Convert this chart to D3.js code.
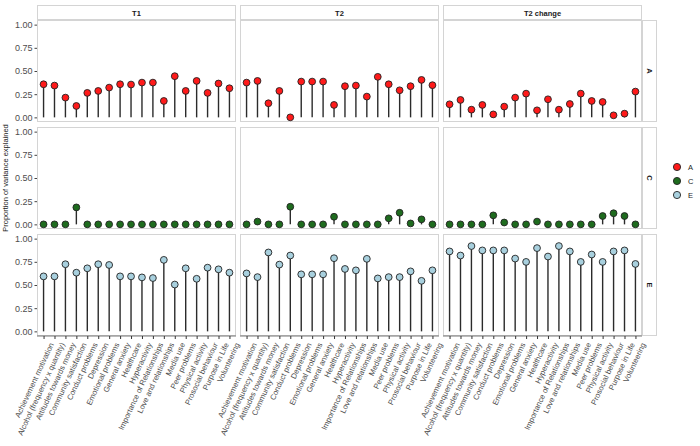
<!DOCTYPE html>
<html><head><meta charset="utf-8">
<script src="https://cdn.jsdelivr.net/npm/d3@7"></script>
<style>body{margin:0;background:#fff}svg{display:block;font-family:"Liberation Sans",Arial,sans-serif}</style>
</head><body><svg id="c" width="700" height="446"></svg>
<script>
const categories = ["Achievement motivation","Alcohol (frequency x quantity)","Attitudes towards money","Community satisfaction","Conduct problems","Depression","Emotional problems","General anxiety","Healthcare","Hyperactivity","Importance of Relationships","Love and relationships","Media use","Peer problems","Physical activity","Prosocial behaviour","Purpose in Life","Volunteering"];
const timepoints = ["T1","T2","T2 change"];
const components = ["A","C","E"];
const colors = {A:"#ff1a1a", C:"#1e6b1e", E:"#a8d0de"};
const yTicks = [0,0.25,0.5,0.75,1];

const A_T1 = [0.357,0.343,0.213,0.123,0.264,0.285,0.321,0.357,0.354,0.375,0.375,0.177,0.444,0.285,0.393,0.264,0.365,0.314];
const A_T2 = [0.375,0.393,0.152,0.285,0.0,0.386,0.386,0.386,0.134,0.336,0.343,0.224,0.437,0.357,0.292,0.336,0.404,0.347];
const A_T2c = [0.141,0.188,0.083,0.134,0.032,0.116,0.213,0.256,0.076,0.195,0.083,0.144,0.256,0.177,0.166,0.022,0.040,0.278];
const C_T1 = [0,0,0,0.183,0,0,0,0,0,0,0,0,0,0,0,0,0,0];
const C_T2 = [0,0.03,0,0,0.19,0,0,0,0.082,0,0,0,0,0.065,0.125,0.01,0.054,0];
const C_T2c = [0,0,0,0,0.097,0.02,0,0,0.03,0,0,0,0,0,0.09,0.12,0.09,0];
const E_T1 = [0.593,0.593,0.724,0.633,0.68,0.724,0.716,0.593,0.593,0.582,0.575,0.771,0.505,0.68,0.567,0.687,0.669,0.633];
const E_T2 = [0.625,0.585,0.851,0.72,0.818,0.615,0.615,0.615,0.789,0.673,0.658,0.782,0.571,0.585,0.585,0.647,0.545,0.658];
const E_T2c = [0.862,0.818,0.92,0.873,0.873,0.873,0.785,0.749,0.898,0.807,0.92,0.862,0.749,0.829,0.749,0.862,0.873,0.727];

const values = {
  A:{"T1":A_T1,"T2":A_T2,"T2 change":A_T2c},
  C:{"T1":C_T1,"T2":C_T2,"T2 change":C_T2c},
  E:{"T1":E_T1,"T2":E_T2,"T2 change":E_T2c}
};

const svg = d3.select("#c");
const colScale = d3.scaleBand().domain(timepoints).range([37,642]).paddingInner(4/203);
const rowScale = d3.scaleBand().domain(components).range([20,336]).paddingInner(5/107);
const W = colScale.bandwidth(), H = rowScale.bandwidth();
const x = d3.scalePoint().domain(categories).range([0,W]).padding(0.6);
const y = d3.scaleLinear().domain([-0.05,1.05]).range([H,0]);
const border = "#d4d4d4";

// column strips
timepoints.forEach(t=>{
  const g = svg.append("g").attr("transform",`translate(${colScale(t)},5)`);
  g.append("rect").attr("x",0.5).attr("y",0.5).attr("width",W-1).attr("height",14).attr("fill","#fff").attr("stroke",border);
  g.append("text").attr("x",W/2).attr("y",10.5).attr("text-anchor","middle").attr("font-size",7.5).attr("font-weight","bold").attr("fill","#1a1a1a").text(t);
});
// row strips
components.forEach(c=>{
  const g = svg.append("g").attr("transform",`translate(642,${rowScale(c)})`);
  g.append("rect").attr("x",0.5).attr("y",0.5).attr("width",14).attr("height",H-1).attr("fill","#fff").attr("stroke",border);
  g.append("text").attr("transform",`translate(7.5,${H/2}) rotate(90)`).attr("text-anchor","middle").attr("dy","0.35em").attr("font-size",7.5).attr("font-weight","bold").attr("fill","#1a1a1a").text(c);
});

components.forEach(c=>{
  timepoints.forEach(t=>{
    const g = svg.append("g").attr("transform",`translate(${colScale(t)},${rowScale(c)})`);
    g.append("rect").attr("x",0.5).attr("y",0.5).attr("width",W-1).attr("height",H-1).attr("fill","#fff").attr("stroke",border);
    const data = categories.map((k,i)=>({k, v: values[c][t][i]}));
    g.selectAll("line.seg").data(data).join("line").attr("class","seg")
      .attr("x1",d=>x(d.k)).attr("x2",d=>x(d.k)).attr("y1",y(0)).attr("y2",d=>y(d.v))
      .attr("stroke","#2b2b2b").attr("stroke-width",1.4);
    g.selectAll("circle").data(data).join("circle")
      .attr("cx",d=>x(d.k)).attr("cy",d=>y(d.v)).attr("r",3.4)
      .attr("fill",colors[c]).attr("stroke","#222").attr("stroke-width",0.9);
    if (t==="T1") {
      const ax = g.append("g").call(d3.axisLeft(y).tickValues(yTicks).tickFormat(d3.format(".2f")).tickSize(2.5).tickPadding(2));
      ax.select(".domain").remove();
      ax.selectAll("line").attr("stroke","#444");
      ax.selectAll("text").attr("font-size",9).attr("fill","#4d4d4d").attr("font-family","Liberation Sans, Arial, sans-serif");
    }
    if (c==="E") {
      const ax = g.append("g").attr("transform",`translate(0,${H})`).call(d3.axisBottom(x).tickSize(3).tickPadding(2));
      ax.select(".domain").attr("stroke","#777").attr("d",`M0,0H${W}`);
      ax.selectAll("line").attr("stroke","#333");
      ax.selectAll("text").attr("font-size",7.7).attr("fill","#4d4d4d").attr("font-family","Liberation Sans, Arial, sans-serif")
        .attr("text-anchor","end").attr("dy","0.35em").attr("transform","translate(3,5) rotate(-65)");
    }
  });
});

// y title
svg.append("text").attr("transform","translate(8,178) rotate(-90)").attr("text-anchor","middle")
  .attr("font-size",7.5).attr("fill","#1a1a1a").text("Proportion of variance explained");

// legend
const lg = svg.append("g").attr("transform","translate(677,167)");
components.forEach((c,i)=>{
  lg.append("circle").attr("cx",0).attr("cy",i*14).attr("r",3.6).attr("fill",colors[c]).attr("stroke","#222").attr("stroke-width",0.9);
  lg.append("text").attr("x",11).attr("y",i*14).attr("dy","0.35em").attr("font-size",7.5).attr("fill","#1a1a1a").text(c);
});
</script></body></html>
